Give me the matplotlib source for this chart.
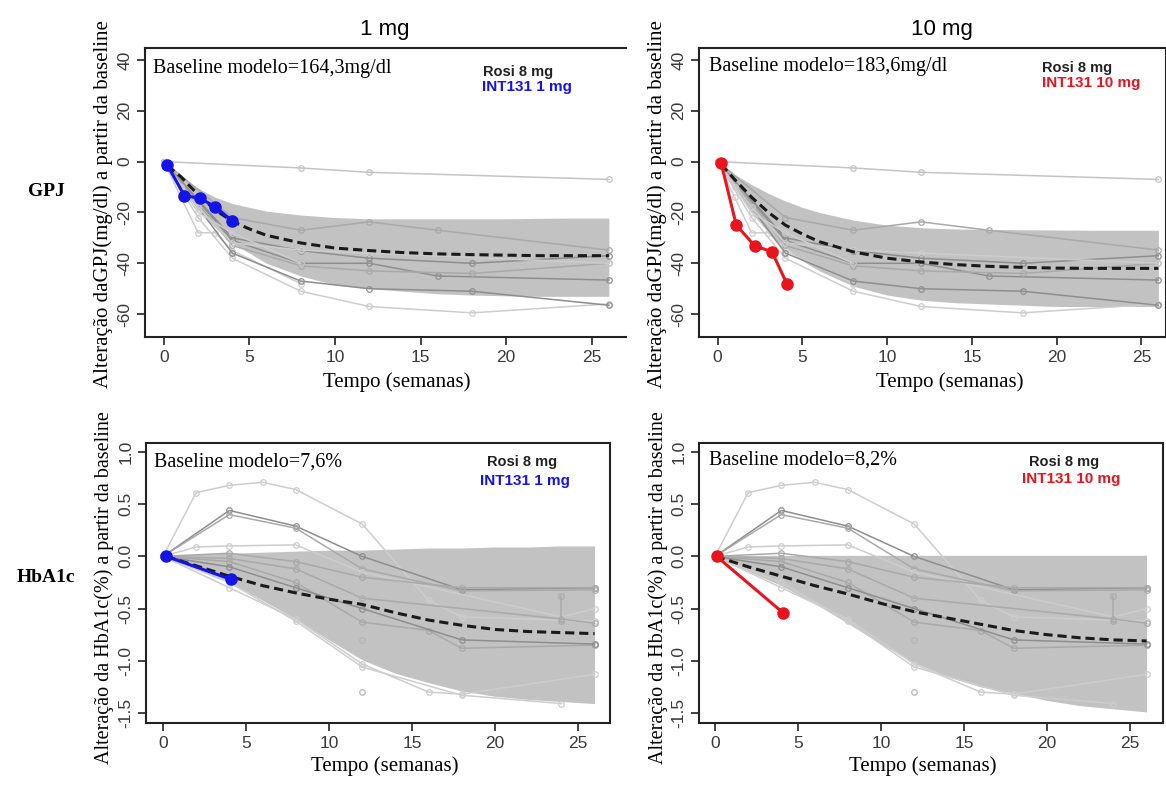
import numpy as np
import matplotlib
matplotlib.use('Agg')
import matplotlib.pyplot as plt

plt.rcParams['axes.unicode_minus'] = False

W, H = 1166, 789

# ---- GPJ (fasting glucose) ----
gpj_grid = [0.2, 1, 2, 3, 4, 5, 6, 8, 10, 12, 14, 16, 18, 20, 22, 24, 26]
gpj1_upper = [-1, -6, -10.5, -14, -16.5, -18, -19.5, -21, -22, -22.5, -22.5, -22.5, -22.5, -22.5, -22.3, -22.2, -22.2]
gpj1_lower = [-2, -10, -19, -26, -32, -36, -40, -45, -48.5, -50, -51, -52, -52.5, -52.8, -53, -53, -53]
gpj1_mean = [-1.5, -6, -13, -19, -23.5, -26.5, -29, -32, -34, -35, -35.8, -36.3, -36.6, -36.8, -37, -37, -37]
gpj10_upper = [-0.5, -5, -9, -12.5, -15.5, -18, -20, -23, -25, -26, -26.5, -26.7, -26.8, -26.9, -27, -27, -27]
gpj10_lower = [-1, -10, -20, -28, -34, -39, -43, -49, -52.5, -54.5, -55.5, -56, -56.5, -57, -57, -57, -57]
gpj10_mean = [-1, -7, -14, -20, -25, -28.5, -31.5, -35.5, -38, -39.5, -40.5, -41.2, -41.6, -41.9, -42, -42, -42]

gpj_rosi_t = [0, 8, 12, 26]
gpj_rosi_y = [0, -2.5, -4.2, -7]

gpj_studies = [
    ([0, 2, 4, 8, 12, 18, 26], [0, -22, -38, -51, -57, -59.5, -56], 'light'),
    ([0, 1, 2, 3, 4, 8], [0, -14, -28, -28, -35, -48], 'light'),
    ([0, 4, 8, 12, 16, 26], [0, -22, -27, -23.7, -27, -34.8], 'mid'),
    ([0, 4, 8, 12, 18, 26], [0, -30, -35, -38, -40, -37], 'dark'),
    ([0, 4, 8, 12, 16, 26], [0, -31, -40, -40, -45, -46.6], 'dark'),
    ([0, 4, 8, 12, 18, 26], [0, -33, -41, -43, -44, -40], 'mid'),
    ([0, 4, 8, 12, 18, 26], [0, -36, -47, -50, -51, -56.5], 'dark'),
    ([0, 2, 4, 8, 12, 26], [0, -18, -32, -34.8, -36, -40], 'light'),
    ([0, 1, 2, 4, 8], [0, -10, -20, -28, -40], 'light'),
]

int1_gpj_t = [0.2, 1.2, 2.1, 3.0, 4.0]
int1_gpj_y = [-1.3, -13.4, -14.4, -17.7, -23.4]
int10_gpj_t = [0.2, 1.1, 2.2, 3.2, 4.1]
int10_gpj_y = [-0.4, -25, -33.2, -35.4, -48.3]

# ---- HbA1c ----
hba_grid = [0.2, 2, 4, 6, 8, 10, 12, 14, 16, 18, 20, 22, 24, 26]
hba1_upper = [0, 0.02, 0.03, 0.04, 0.05, 0.06, 0.06, 0.07, 0.08, 0.08, 0.09, 0.09, 0.1, 0.1]
hba1_lower = [0, -0.12, -0.25, -0.42, -0.6, -0.8, -0.99, -1.12, -1.21, -1.29, -1.34, -1.37, -1.39, -1.41]
hba1_mean = [0, -0.09, -0.19, -0.28, -0.35, -0.41, -0.46, -0.54, -0.61, -0.66, -0.70, -0.72, -0.73, -0.74]
hba10_grid = [0.05, 2, 4, 6, 8, 10, 12, 14, 16, 18, 20, 22, 24, 26]
hba10_upper = [0, 0.01, 0.01, 0.01, 0.01, 0.01, 0.01, 0.01, 0.01, 0.01, 0.01, 0.01, 0.01, 0.01]
hba10_lower = [0, -0.14, -0.28, -0.45, -0.64, -0.84, -1.02, -1.15, -1.25, -1.31, -1.38, -1.43, -1.46, -1.49]
hba10_mean = [0, -0.1, -0.19, -0.28, -0.36, -0.45, -0.53, -0.59, -0.65, -0.71, -0.75, -0.78, -0.80, -0.81]

hba_studies = [
    ([0, 2, 4, 6, 8, 12, 16, 18, 26], [0, 0.61, 0.68, 0.71, 0.64, 0.31, -0.42, -0.58, -0.62], 'light'),
    ([0, 4, 8, 12, 18, 26], [0, 0.44, 0.29, 0.0, -0.32, -0.30], 'dark'),
    ([0, 4, 8, 12, 18, 26], [0, 0.40, 0.27, -0.12, -0.33, -0.32], 'mid'),
    ([0, 2, 4, 8, 12, 24, 26], [0, 0.09, 0.10, 0.11, -0.15, -0.58, -0.50], 'light'),
    ([0, 4, 8, 12, 18, 26], [0, 0.03, -0.05, -0.2, -0.3, -0.30], 'mid'),
    ([0, 4, 8, 12, 16, 18, 26], [0, -0.3, -0.6, -1.03, -1.3, -1.32, -1.13], 'light'),
    ([0, 4, 8, 12, 16, 18, 26], [0, -0.05, -0.25, -0.63, -0.71, -0.88, -0.85], 'mid'),
    ([0, 4, 8, 12, 18, 26], [0, -0.1, -0.3, -0.5, -0.8, -0.84], 'dark'),
    ([0, 4, 8, 12, 18, 24], [0, -0.25, -0.62, -1.06, -1.33, -1.41], 'light'),
    ([0, 4, 8, 12, 24, 26], [0, -0.02, -0.12, -0.4, -0.6, -0.64], 'mid'),
    ([24, 24], [-0.38, -0.62], 'mid'),
]
hba_pts_t = [12, 12, 12]
hba_pts_y = [-0.8, -1.3, -0.4]

int1_hba_t = [0.2, 4.1]
int1_hba_y = [0.0, -0.22]
int10_hba_t = [0.1, 4.1]
int10_hba_y = [0.0, -0.54]

shade = {'light': '#cdcdcd', 'mid': '#a9a9a9', 'dark': '#8e8e8e'}
band_col = '#c2c2c2'
blue = '#1414e6'
red = '#e8141e'

serif = 'Liberation Serif'
sans = 'Liberation Sans'


def rect(l, r, t, b):
    return [l / W, 1 - b / H, (r - l) / W, (b - t) / H]


def ftext(x, y, s, **kw):
    fig.text(x / W, 1 - y / H, s, **kw)


fig = plt.figure(figsize=(W / 100, H / 100), dpi=100)

panels = [
    dict(r=rect(145, 626, 48, 337), xlim=(-1.1, 27.0), ylim=(-69, 44.7), grid=gpj_grid,
         up=gpj1_upper, lo=gpj1_lower, mean=gpj1_mean, studies=gpj_studies, rosi=True,
         it=int1_gpj_t, iy=int1_gpj_y, col=blue, yt=[-60, -40, -20, 0, 20, 40]),
    dict(r=rect(699, 1166, 48, 337), xlim=(-1.1, 26.45), ylim=(-69, 44.7), grid=gpj_grid,
         up=gpj10_upper, lo=gpj10_lower, mean=gpj10_mean, studies=gpj_studies, rosi=True,
         it=int10_gpj_t, iy=int10_gpj_y, col=red, yt=[-60, -40, -20, 0, 20, 40]),
    dict(r=rect(146, 610, 443, 723), xlim=(-1.02, 26.93), ylim=(-1.596, 1.086), grid=hba_grid,
         up=hba1_upper, lo=hba1_lower, mean=hba1_mean, studies=hba_studies, rosi=False,
         it=int1_hba_t, iy=int1_hba_y, col=blue, yt=[-1.5, -1.0, -0.5, 0.0, 0.5, 1.0]),
    dict(r=rect(699, 1163, 443, 723), xlim=(-0.96, 26.99), ylim=(-1.596, 1.086), grid=hba10_grid,
         up=hba10_upper, lo=hba10_lower, mean=hba10_mean, studies=hba_studies, rosi=False,
         it=int10_hba_t, iy=int10_hba_y, col=red, yt=[-1.5, -1.0, -0.5, 0.0, 0.5, 1.0]),
]

for i, p in enumerate(panels):
    ax = fig.add_axes(p['r'])
    ax.fill_between(p['grid'], p['lo'], p['up'], color=band_col, lw=0, zorder=1)
    for t, y, s in p['studies']:
        ax.plot(t, y, color=shade[s], lw=1.1, marker='o', ms=4, mfc='none', mew=0.9, zorder=2)
    if p['rosi']:
        ax.plot(gpj_rosi_t, gpj_rosi_y, color='#c4c4c4', lw=1.1, marker='o', ms=4,
                mfc='none', mew=0.9, zorder=2)
    else:
        ax.plot(hba_pts_t, hba_pts_y, ls='none', color='#b5b5b5', marker='o', ms=4,
                mfc='none', mew=0.9, zorder=2)
    ax.plot(p['grid'], p['mean'], color='#1a1a1a', lw=2.2, ls=(0, (3, 1.6)), zorder=3)
    ax.plot(p['it'], p['iy'], color=p['col'], lw=2.2, marker='o', ms=8, zorder=4)
    ax.set_xlim(*p['xlim'])
    ax.set_ylim(*p['ylim'])
    ax.set_xticks([0, 5, 10, 15, 20, 25])
    ax.set_yticks(p['yt'])
    if i >= 2:
        ax.set_yticklabels(['%.1f' % v for v in p['yt']])
    ax.tick_params(direction='out', length=6, width=1.2, colors='#222222',
                   labelcolor='#3a3a3a', labelsize=12.5, pad=3)
    for lab in ax.get_xticklabels() + ax.get_yticklabels():
        lab.set_fontfamily(sans)
    for lab in ax.get_yticklabels():
        lab.set_rotation(90)
        lab.set_va('center')
    for sp in ax.spines.values():
        sp.set_linewidth(1.5)
        sp.set_color('#222222')
    if i == 0:
        ax.spines['right'].set_visible(False)

# panel texts
ftext(385, 30, '1 mg', fontsize=16, family=sans, ha='center', va='center')
ftext(942, 30, '10 mg', fontsize=16, family=sans, ha='center', va='center')
ftext(46, 192, 'GPJ', fontsize=14, family=serif, weight='bold', ha='center', va='center')
ftext(46, 578, 'HbA1c', fontsize=14, family=serif, weight='bold', ha='center', va='center')

ylab_top = 'Alteração daGPJ(mg/dl) a partir da baseline'
ylab_bot = 'Alteração da HbA1c(%) a partir da baseline'
for x in (103, 657):
    ftext(x, 204, ylab_top, fontsize=15, family=serif, rotation=90, ha='center', va='center')
    ftext(x + 1, 588, ylab_bot, fontsize=14.5, family=serif, rotation=90, ha='center', va='center')

for x, y in ((397, 382), (950, 382), (385, 766), (923, 766)):
    ftext(x, y, 'Tempo (semanas)', fontsize=15, family=serif, ha='center', va='center')

ftext(153, 68, 'Baseline modelo=164,3mg/dl', fontsize=14.5, family=serif, va='center')
ftext(709, 67, 'Baseline modelo=183,6mg/dl', fontsize=14.5, family=serif, va='center')
ftext(154, 462, 'Baseline modelo=7,6%', fontsize=14.5, family=serif, va='center')
ftext(709, 460, 'Baseline modelo=8,2%', fontsize=14.5, family=serif, va='center')

legend_pos = [
    (483, 72, 482, 87, 'INT131 1 mg', blue),
    (1042, 68, 1042, 83, 'INT131 10 mg', red),
    (487, 462, 480, 481, 'INT131 1 mg', blue),
    (1029, 462, 1022, 479, 'INT131 10 mg', red),
]
for rx, ry, ix, iy, lab, c in legend_pos:
    ftext(rx, ry, 'Rosi 8 mg', fontsize=10.5, family=sans, weight='bold', color='#222222', va='center')
    ftext(ix, iy, lab, fontsize=11, family=sans, weight='bold', color=c, va='center')

fig.savefig('out.png', dpi=100)
